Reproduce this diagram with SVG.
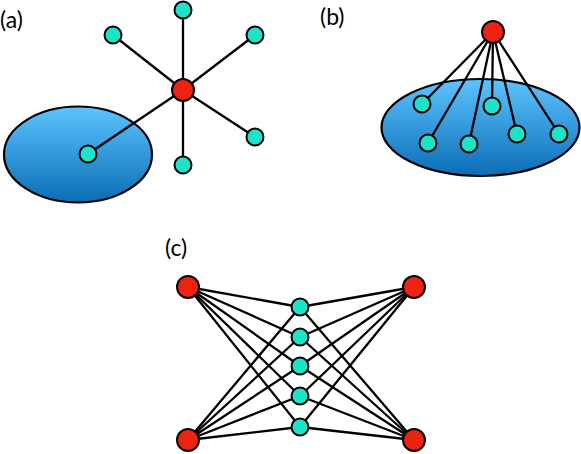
<svg xmlns="http://www.w3.org/2000/svg" width="581" height="454" viewBox="0 0 581 454">
<style>
.lbl{font-family:Lato,"DejaVu Sans",sans-serif;font-size:23px;fill:#000}
.e{stroke:#000;stroke-width:2.3;fill:none}
.r{fill:#EE2211;stroke:#000;stroke-width:2}
.c{fill:#1DE3C8;stroke:#000;stroke-width:2}
.blob{fill:url(#g);stroke:#000;stroke-width:2.2}
</style>
<defs>
<linearGradient id="g" x1="0" y1="0" x2="0" y2="1">
<stop offset="0" stop-color="#5CC4FF"/>
<stop offset="1" stop-color="#0B6DB5"/>
</linearGradient>
</defs>
<g id="labels">
<text class="lbl" x="0" y="28">(a)</text>
<text class="lbl" x="320" y="25">(b)</text>
<text class="lbl" x="165" y="256">(c)</text>
</g>
<g id="clusters">
<ellipse id="cluster-a" class="blob" cx="78" cy="154.5" rx="74" ry="48"/>
<ellipse id="cluster-b" class="blob" cx="480.5" cy="127.5" rx="99" ry="48.5"/>
</g>
<g id="connectors">
<line class="e" x1="183" y1="90" x2="183" y2="10"/>
<line class="e" x1="183" y1="90" x2="113" y2="35"/>
<line class="e" x1="183" y1="90" x2="255" y2="35"/>
<line class="e" x1="183" y1="90" x2="255" y2="137"/>
<line class="e" x1="183" y1="90" x2="183" y2="165"/>
<line class="e" x1="183" y1="90" x2="88" y2="154"/>
<line class="e" x1="493" y1="32" x2="422" y2="104"/>
<line class="e" x1="493" y1="32" x2="428" y2="143"/>
<line class="e" x1="493" y1="32" x2="469" y2="144"/>
<line class="e" x1="493" y1="32" x2="492" y2="106"/>
<line class="e" x1="493" y1="32" x2="517" y2="134"/>
<line class="e" x1="493" y1="32" x2="559" y2="134"/>
<g id="c-edges">
<line class="e" x1="188" y1="287" x2="300" y2="307"/><line class="e" x1="188" y1="287" x2="300" y2="337"/><line class="e" x1="188" y1="287" x2="300" y2="366"/><line class="e" x1="188" y1="287" x2="300" y2="396"/><line class="e" x1="188" y1="287" x2="300" y2="427"/>
<line class="e" x1="414" y1="287" x2="300" y2="307"/><line class="e" x1="414" y1="287" x2="300" y2="337"/><line class="e" x1="414" y1="287" x2="300" y2="366"/><line class="e" x1="414" y1="287" x2="300" y2="396"/><line class="e" x1="414" y1="287" x2="300" y2="427"/>
<line class="e" x1="188" y1="440" x2="300" y2="307"/><line class="e" x1="188" y1="440" x2="300" y2="337"/><line class="e" x1="188" y1="440" x2="300" y2="366"/><line class="e" x1="188" y1="440" x2="300" y2="396"/><line class="e" x1="188" y1="440" x2="300" y2="427"/>
<line class="e" x1="414" y1="440" x2="300" y2="307"/><line class="e" x1="414" y1="440" x2="300" y2="337"/><line class="e" x1="414" y1="440" x2="300" y2="366"/><line class="e" x1="414" y1="440" x2="300" y2="396"/><line class="e" x1="414" y1="440" x2="300" y2="427"/>
</g>
</g>
<g id="a-hub"><circle class="r" cx="183" cy="90" r="11"/></g>
<g id="a-n1"><circle class="c" cx="183" cy="10" r="8.5"/></g>
<g id="a-n2"><circle class="c" cx="113" cy="35" r="8.5"/></g>
<g id="a-n3"><circle class="c" cx="255" cy="35" r="8.5"/></g>
<g id="a-n4"><circle class="c" cx="255" cy="137" r="8.5"/></g>
<g id="a-n5"><circle class="c" cx="183" cy="165" r="8.5"/></g>
<g id="a-n6"><circle class="c" cx="88" cy="154" r="8.5"/></g>
<g id="b-hub"><circle class="r" cx="493" cy="32" r="11"/></g>
<g id="b-n1"><circle class="c" cx="422" cy="104" r="8.5"/></g>
<g id="b-n2"><circle class="c" cx="428" cy="143" r="8.5"/></g>
<g id="b-n3"><circle class="c" cx="469" cy="144" r="8.5"/></g>
<g id="b-n4"><circle class="c" cx="492" cy="106" r="8.5"/></g>
<g id="b-n5"><circle class="c" cx="517" cy="134" r="8.5"/></g>
<g id="b-n6"><circle class="c" cx="559" cy="134" r="8.5"/></g>
<g id="c-tl"><circle class="r" cx="188" cy="287" r="11"/></g>
<g id="c-tr"><circle class="r" cx="414" cy="287" r="11"/></g>
<g id="c-bl"><circle class="r" cx="188" cy="440" r="11"/></g>
<g id="c-br"><circle class="r" cx="414" cy="440" r="11"/></g>
<g id="c-m1"><circle class="c" cx="300" cy="307" r="8.5"/></g>
<g id="c-m2"><circle class="c" cx="300" cy="337" r="8.5"/></g>
<g id="c-m3"><circle class="c" cx="300" cy="366" r="8.5"/></g>
<g id="c-m4"><circle class="c" cx="300" cy="396" r="8.5"/></g>
<g id="c-m5"><circle class="c" cx="300" cy="427" r="8.5"/></g>
</svg>
